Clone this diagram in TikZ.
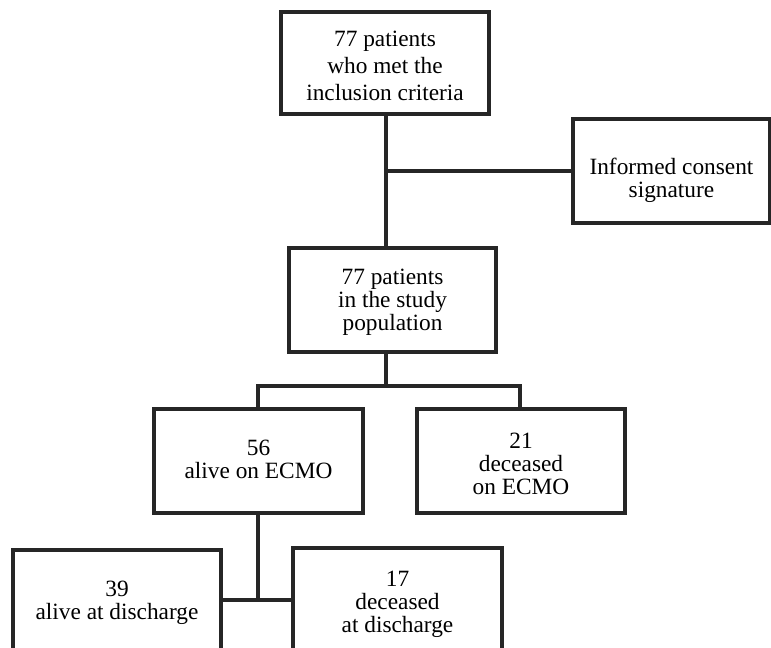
\documentclass[tikz,border=0pt]{standalone}
\usepackage{fontspec}
\setmainfont{Liberation Serif}
\begin{document}
\begin{tikzpicture}[x=0.75pt,y=-0.75pt,
  box/.style={draw=black!85, line width=2.5pt, rectangle, inner sep=0pt},
  txt/.style={inner sep=0pt, align=center, font=\fontsize{17.5}{17.3}\selectfont},
  conn/.style={draw=black!85, line width=2.5pt}]
\clip (0,0) rectangle (771,647);
\node[box, minimum width=156pt, minimum height=76.5pt] (top) at (385,63) {};
\node[box, minimum width=147.75pt, minimum height=78pt] (consent) at (671.5,171) {};
\node[box, minimum width=155.25pt, minimum height=78pt] (mid) at (392.5,300) {};
\node[box, minimum width=156.75pt, minimum height=78pt] (alive) at (258.5,461) {};
\node[box, minimum width=156pt, minimum height=78pt] (dec) at (521,461) {};
\node[box, minimum width=156pt, minimum height=78pt] (a39) at (117,602) {};
\node[box, minimum width=156.75pt, minimum height=78pt] (d17) at (397.5,600) {};
\node[txt, font=\fontsize{17.5}{20}\selectfont] (topT) at ([yshift=-3*0.75pt]top.center) {77 patients\\who met the\\inclusion criteria};
\node[txt] (consentT) at ([yshift=-9*0.75pt]consent.center) {Informed consent\\signature};
\node[txt] (midT) at ([yshift=-2*0.75pt]mid.center) {77 patients\\in the study\\population};
\node[txt] (aliveT) at ([yshift=2*0.75pt]alive.center) {56\\alive on ECMO};
\node[txt] (decT) at ([yshift=-3*0.75pt]dec.center) {21\\deceased\\on ECMO};
\node[txt] (a39T) at ([yshift=-1*0.75pt]a39.center) {39\\alive at discharge};
\node[txt] (d17T) at ([yshift=-4*0.75pt]d17.center) {17\\deceased\\at discharge};
\coordinate (j1) at (386,171);
\coordinate (j2) at (386,386);
\coordinate (jl) at (258,386);
\coordinate (jr) at (520,386);
\coordinate (j3) at (258,600);
\draw[conn] (top.south -| j1) -- (mid.north -| j1);
\draw[conn] (j1) -- (consent.west);
\draw[conn] (mid.south -| j2) -- (j2);
\draw[conn] (alive.north -| jl) -- (jl) -- (jr) -- (dec.north -| jr);
\draw[conn] (alive.south -| j3) -- (j3);
\draw[conn] (a39.east |- j3) -- (d17.west |- j3);
\end{tikzpicture}
\end{document}
